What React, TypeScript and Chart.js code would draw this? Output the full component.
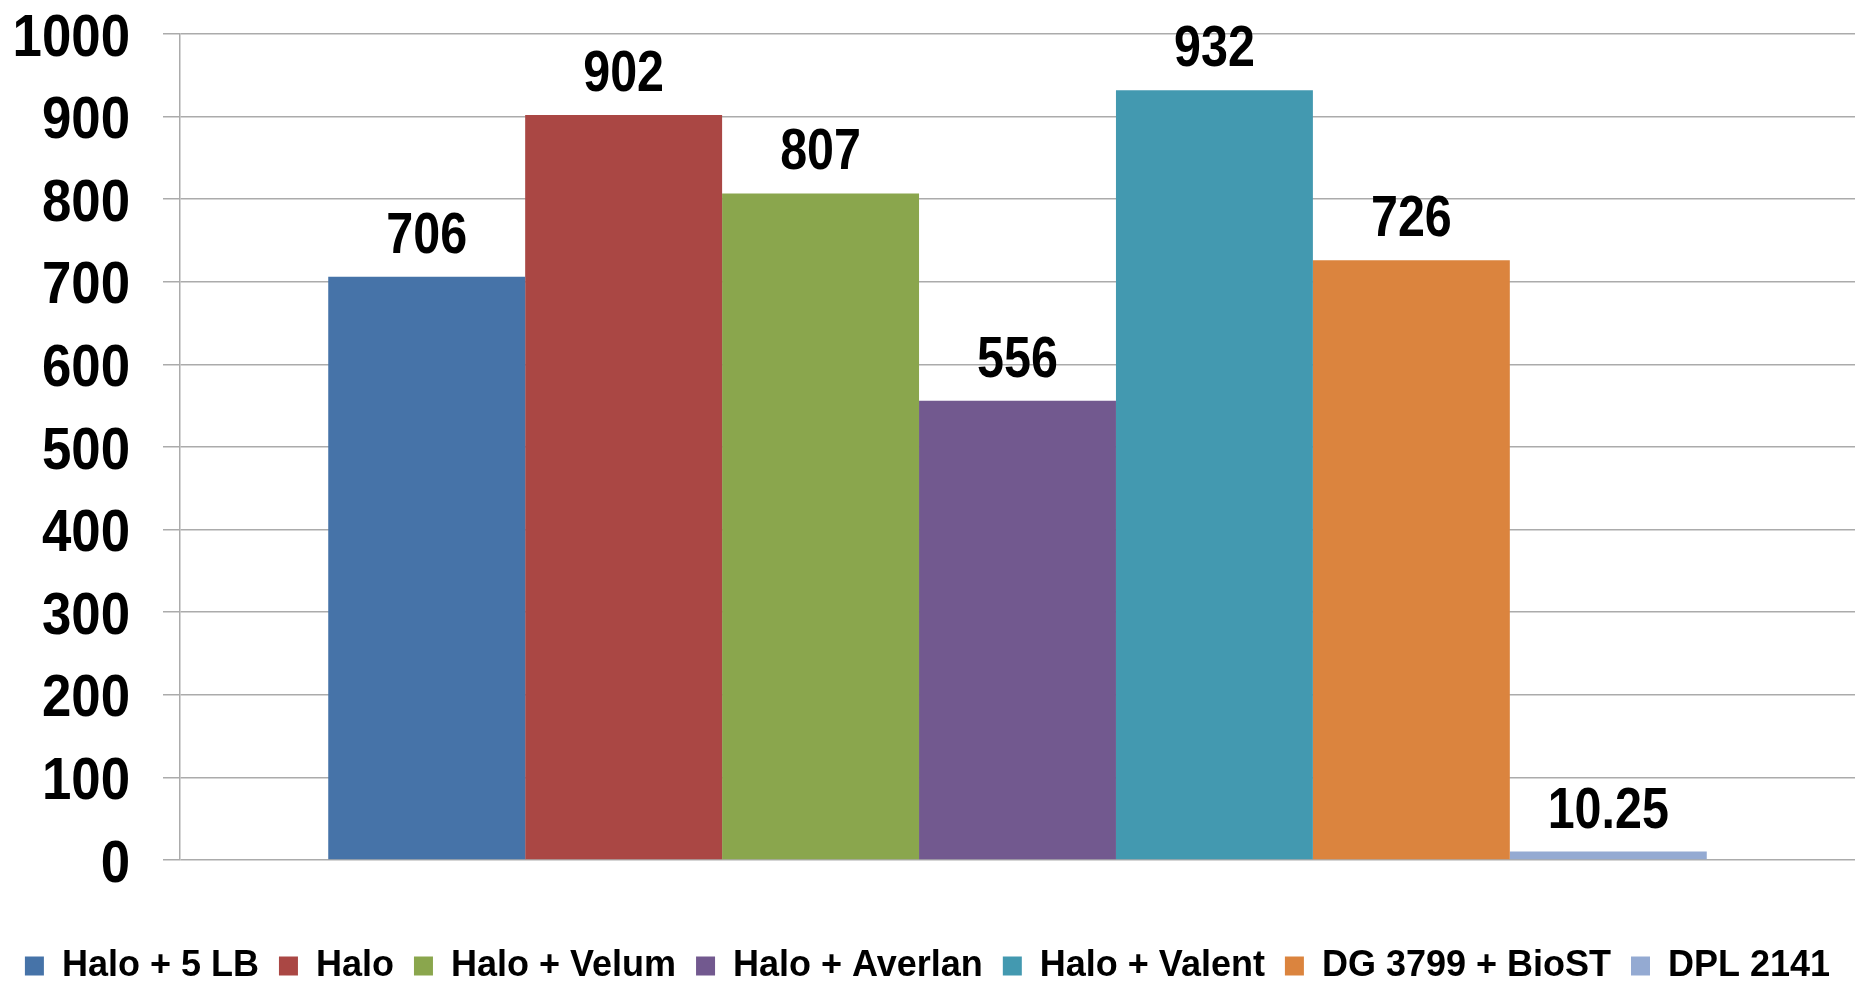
import React, { useEffect, useRef } from "react";
import { Chart, registerables } from "chart.js";

Chart.register(...registerables);

const categories = [""];
const seriesNames = [
  "Halo + 5 LB",
  "Halo",
  "Halo + Velum",
  "Halo + Averlan",
  "Halo + Valent",
  "DG 3799 + BioST",
  "DPL 2141",
];
const seriesValues = [706, 902, 807, 556, 932, 726, 10.25];
const seriesColors = [
  "#4673A8",
  "#AA4744",
  "#8AA64D",
  "#72598F",
  "#4399B0",
  "#DB843E",
  "#94AAD2",
];
const yMin = 0;
const yMax = 1000;
const yStep = 100;

const WIDE = '"Liberation Sans", Arial, sans-serif';

// draws the value labels above bars (condensed, like the original)
const valueLabelPlugin = {
  id: "valueLabels",
  afterDatasetsDraw(chart: any) {
    const ctx = chart.ctx;
    ctx.save();
    ctx.font = `bold 57px ${WIDE}`;
    ctx.fillStyle = "#000000";
    ctx.textAlign = "center";
    ctx.textBaseline = "alphabetic";
    chart.data.datasets.forEach((ds: any, i: number) => {
      const meta = chart.getDatasetMeta(i);
      meta.data.forEach((el: any, j: number) => {
        const v = ds.data[j];
        ctx.save();
        ctx.translate(el.x, el.y - 24);
        ctx.scale(0.85, 1);
        ctx.fillText(String(v), 0, 0);
        ctx.restore();
      });
    });
    ctx.restore();
  },
};

// draws the y-axis tick labels (condensed bold digits)
const yTickLabelPlugin = {
  id: "yTickLabels",
  afterDraw(chart: any) {
    const scale = chart.scales.y;
    const ctx = chart.ctx;
    ctx.save();
    ctx.font = `bold 60px ${WIDE}`;
    ctx.fillStyle = "#000000";
    ctx.textAlign = "right";
    ctx.textBaseline = "alphabetic";
    const x = scale.right - 17 - 33;
    scale.ticks.forEach((t: any, i: number) => {
      const y = scale.getPixelForTick(i);
      ctx.save();
      ctx.translate(x, y + 21.5);
      ctx.scale(0.88, 1);
      ctx.fillText(String(t.value), 0, 0);
      ctx.restore();
    });
    ctx.restore();
  },
};

export default function App() {
  const canvasRef = useRef<HTMLCanvasElement | null>(null);

  useEffect(() => {
    document.body.style.margin = "0";
    const canvas = canvasRef.current;
    if (!canvas) return;
    const gridColor = "#ababab";
    const chart = new Chart(canvas, {
      type: "bar",
      data: {
        labels: categories,
        datasets: seriesNames.map((name, i) => ({
          label: name,
          data: [seriesValues[i]],
          backgroundColor: seriesColors[i],
          borderWidth: 0,
          categoryPercentage: 0.823,
          barPercentage: 1,
        })),
      },
      options: {
        responsive: false,
        animation: false,
        layout: { padding: { top: 34, right: 9, left: 0, bottom: 0 } },
        plugins: {
          legend: {
            position: "bottom",
            maxHeight: 55,
            labels: {
              boxWidth: 19,
              boxHeight: 19,
              padding: 20,
              color: "#000000",
              font: { family: WIDE, size: 36, weight: "bold" },
            },
          },
          tooltip: { enabled: false },
        },
        scales: {
          x: {
            display: true,
            grid: { display: false, drawTicks: false },
            border: { display: false },
            ticks: { display: false },
            afterFit(scale: any) {
              scale.height = 68;
            },
          },
          y: {
            min: yMin,
            max: yMax,
            ticks: {
              stepSize: yStep,
              display: false,
            },
            grid: {
              color: gridColor,
              lineWidth: 1.5,
              drawTicks: true,
              tickLength: 17,
              tickColor: gridColor,
            },
            border: { display: true, color: gridColor, width: 1.5 },
            afterFit(scale: any) {
              scale.width = 180;
              scale.paddingTop = 0;
              scale.paddingBottom = 0;
            },
          },
        },
      },
      plugins: [valueLabelPlugin, yTickLabelPlugin],
    } as any);
    return () => chart.destroy();
  }, []);

  return <canvas ref={canvasRef} width={1864} height={983} style={{ display: "block" }} />;
}
